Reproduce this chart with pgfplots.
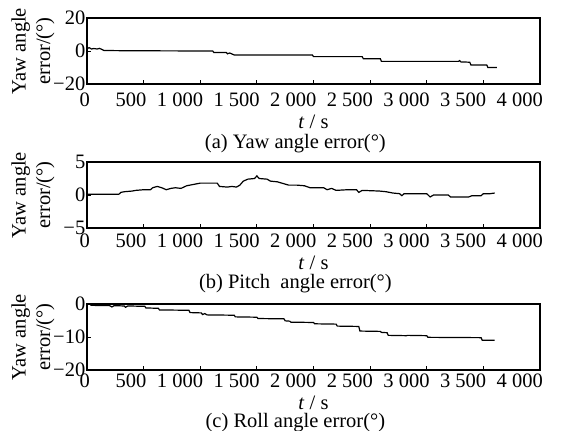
\documentclass[border=0pt]{standalone}
\usepackage{fontspec}
\setmainfont{Liberation Serif}
\usepackage{pgfplots}
\pgfplotsset{compat=1.18}

\pgfplotsset{
  errpanel/.style={
    scale only axis,
    width=453pt, height=66pt,
    xmin=0, xmax=4000,
    xtick={0,500,...,4000},
    xticklabels={0,500,1 000,1 500,2 000,2 500,3 000,3 500,4 000},
    tick pos=left,
    tick align=inside,
    major tick length=4pt,
    axis line style={line width=1.1pt},
    every tick/.style={line width=0.9pt, black},
    font=\fontsize{20.5}{24.5}\selectfont,
    xticklabel style={anchor=north east, inner xsep=0pt, inner ysep=0pt, xshift=3pt, yshift=-5pt},
    yticklabel style={inner xsep=1.5pt, inner ysep=0pt},
    xlabel={\textit{t} / s},
    xlabel style={at={(axis description cs:0.5,0)}, anchor=center, yshift=-35pt},
    ylabel={Yaw angle\\error/(°)},
    ylabel style={at={(axis description cs:0,0.5)}, anchor=center, yshift=54pt, align=center},
    every axis title shift=0pt,
    title style={at={(axis description cs:0.46,0)}, anchor=center},
  },
  errline/.style={black, line width=1.2pt, no marks},
}

\begin{document}
\begin{tikzpicture}
\path[use as bounding box] (0,0) rectangle (571pt,-431pt);

% (a) yaw
\begin{axis}[errpanel, at={(87pt,-18pt)}, anchor=north west,
  ymin=-20, ymax=20, ytick={-20,0,20}, yticklabels={−20,0,20},
  xticklabel style={yshift=-4pt},
  xlabel style={yshift=-3pt},
  title style={yshift=-60pt},
  title={(a) Yaw angle error(°)}]
\addplot[errline] coordinates {
 (0,1.5) (20,2) (40,1.2) (60,1.5) (90,1.2) (110,1.6) (130,1.0) (150,0.3)
 (300,0.2) (600,0.1) (1110,0.0) (1120,-0.9) (1230,-0.9) (1240,-1.7)
 (1260,-1.2) (1280,-1.8) (1300,-2.4) (1990,-2.4) (2000,-3.4) (2430,-3.4)
 (2440,-4.7) (2590,-4.7) (2600,-6.3) (3280,-6.3) (3290,-5.8) (3300,-6.6)
 (3380,-6.8) (3390,-8.5) (3530,-8.5) (3540,-10.0) (3620,-10.0)
};
\end{axis}

% (b) pitch
\begin{axis}[errpanel, at={(87pt,-162pt)}, anchor=north west,
  ymin=-5, ymax=5, ytick={-5,0,5}, yticklabels={−5,0,5},
  xticklabel style={yshift=-1pt},
  title style={yshift=-56pt},
  title={(b) Pitch~ angle error(°)}]
\addplot[errline] coordinates {
 (0,0.1) (280,0.1) (300,0.4) (330,0.5) (400,0.6) (430,0.7) (500,0.8)
 (560,0.8) (580,1.1) (620,1.3) (660,1.1) (700,0.8) (740,1.0) (780,1.1)
 (830,1.0) (880,1.4) (940,1.6) (1000,1.8) (1150,1.8) (1170,1.3) (1240,1.2)
 (1280,1.3) (1320,1.2) (1350,1.5) (1380,2.1) (1420,2.4) (1480,2.5)
 (1500,2.9) (1520,2.5) (1590,2.4) (1620,2.1) (1680,2.0) (1720,1.8)
 (1780,1.5) (1850,1.5) (1920,1.4) (1970,1.1) (2090,1.1) (2120,0.8)
 (2160,1.0) (2200,0.7) (2300,0.8) (2380,0.8) (2400,0.4) (2430,0.7)
 (2580,0.6) (2640,0.5) (2700,0.3) (2760,0.2) (2780,-0.1) (2800,0.2)
 (3000,0.2) (3030,-0.3) (3060,0.0) (3190,0.0) (3210,-0.3) (3370,-0.3)
 (3400,-0.1) (3480,-0.1) (3500,0.2) (3560,0.2) (3600,0.3)
};
\end{axis}

% (c) roll
\begin{axis}[errpanel, at={(87pt,-304pt)}, anchor=north west,
  ymin=-20, ymax=0, ytick={-20,-10,0}, yticklabels={−20,−10,0},
  xticklabel style={yshift=1pt},
  xlabel style={yshift=2pt},
  title style={yshift=-53pt},
  title={(c) Roll angle error(°)}]
\addplot[errline] coordinates {
 (30,-0.4) (200,-0.5) (220,-0.9) (240,-0.5) (330,-0.6) (340,-1.0)
 (360,-0.6) (510,-0.7) (520,-1.2) (630,-1.3) (640,-1.8) (900,-1.9)
 (910,-2.6) (1010,-2.7) (1020,-3.2) (1040,-2.9) (1060,-3.3) (1300,-3.4)
 (1310,-3.9) (1500,-4.0) (1510,-4.4) (1740,-4.5) (1750,-5.1) (1790,-5.2)
 (1800,-5.5) (2000,-5.6) (2010,-6.0) (2200,-6.1) (2210,-6.7) (2400,-6.8)
 (2410,-8.2) (2590,-8.3) (2600,-8.6) (2650,-8.7) (2660,-9.5) (2820,-9.6)
 (2830,-9.5) (3000,-9.6) (3010,-10.1) (3480,-10.2) (3490,-11.0) (3600,-11.0)
};
\end{axis}
\end{tikzpicture}
\end{document}
